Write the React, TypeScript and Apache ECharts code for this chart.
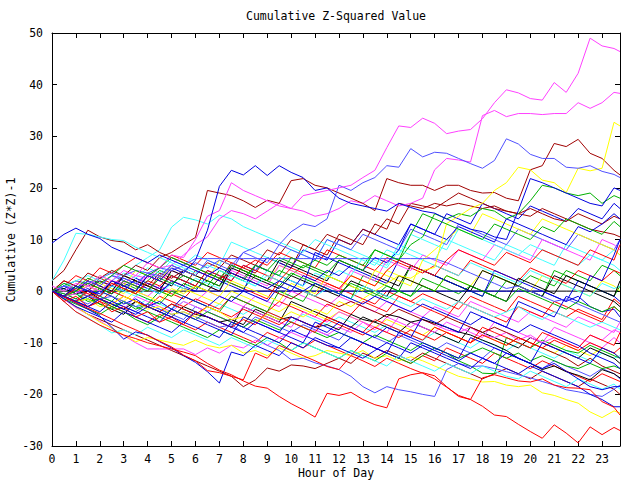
import React, { useEffect, useRef } from "react";
import * as echarts from "echarts";

const TITLE = "Cumulative Z-Squared Value";
const X_NAME = "Hour of Day";
const Y_NAME = "Cumulative (Z*Z)-1";

const HOURS = [
  0, 0.5, 1, 1.5, 2, 2.5, 3, 3.5, 4, 4.5, 5, 5.5,
  6, 6.5, 7, 7.5, 8, 8.5, 9, 9.5, 10, 10.5, 11, 11.5,
  12, 12.5, 13, 13.5, 14, 14.5, 15, 15.5, 16, 16.5, 17, 17.5,
  18, 18.5, 19, 19.5, 20, 20.5, 21, 21.5, 22, 22.5, 23, 23.5, 23.75,
];

const RED = "#ff0000";
const GREEN = "#00b000";
const BLUE = "#0000e0";
const MAGENTA = "#ff40ff";
const CYAN = "#40ffff";
const BROWN = "#a00000";
const YELLOW = "#ffff00";
const BLACK = "#000000";
const PERIWINKLE = "#5050ff";

const zeroLine = [
  0, 0, 0, 0, 0, 0, 0, 0, 0, 0, 0, 0,
  0, 0, 0, 0, 0, 0, 0, 0, 0, 0, 0, 0,
  0, 0, 0, 0, 0, 0, 0, 0, 0, 0, 0, 0,
  0, 0, 0, 0, 0, 0, 0, 0, 0, 0, 0, 0, 0,
];
const magentaTop = [
  1, 0, 1.5, 1, 3, 2, 4, 3, 5.5, 4.5, 7, 6.5,
  10, 14.5, 15.6, 21, 19.5, 18.5, 17.5, 16.5, 16, 18.5, 19, 19.5,
  20, 20.5, 22, 23.4, 27.8, 32, 31.7, 33.5, 32.5, 30.5, 31, 31.3,
  33.4, 36.5, 39, 38.4, 37.3, 37, 40.4, 38.5, 42.2, 49, 47.5, 47, 46.4,
];
const magentaSecond = [
  0, -1, -0.5, 1, 0, 2, 1.5, 3, 2.5, 4.5, 5, 7,
  9, 10.5, 14, 15.6, 15, 14, 15.5, 17, 16, 15.5, 14.5, 15,
  16, 17.5, 17, 18.5, 17.5, 16.5, 17, 18, 23.5, 25.7, 25.4, 25,
  34, 35, 33.8, 34.4, 34.4, 34.2, 34.4, 34.4, 36.5, 35.4, 36.5, 38.5, 38.3,
];
const blueTop = [
  0, -1, 1, 0, -0.5, 2, 1, 0, 3, 2, 4.5, 3.5,
  6, 11.8, 20.3, 23.4, 22.5, 24.3, 22.4, 24.3, 23, 22, 19.5, 20,
  18, 17, 16.5, 16, 15.5, 17, 16.2, 15.5, 15.1, 14, 13, 12,
  11.5, 10.5, 10, 15.6, 21.8, 21, 20, 19, 18, 17, 16.5, 20, 19.5,
];
const periwinkleTop = [
  0, 1, 0.5, 2, 1, 3, 2.5, 1.5, 3.5, 3, 5, 4,
  5.5, 4.5, 6, 5, 7.5, 8.5, 10, 9, 11.5, 13, 12.5, 14,
  20.5, 19.5, 21, 22, 24.3, 24, 27.6, 26, 26.9, 26.7, 25.7, 24.7,
  23.8, 25.3, 29.5, 28.5, 26.5, 25.7, 25.7, 24, 23.8, 24.3, 23.2, 22.6, 22,
];
const brownTop = [
  0, 2, 1, 3.5, 2.5, 4, 3, 5, 4, 6.5, 7.5, 9,
  10.4, 19.5, 19, 18.5, 17.5, 16.2, 17.6, 17, 21.4, 21.8, 20.5, 20,
  19, 18, 17, 15.6, 21.8, 21, 20.5, 20.5, 19.5, 20.5, 20.5, 19.5,
  19, 19.1, 18, 17.5, 23.5, 24.3, 28.6, 28, 29.4, 26.7, 25.7, 23.4, 22.5,
];
const yellowJump = [
  0, -1, -2, -1.5, -3, -2.5, -1, -2, -3.5, -3, -4.5, -4,
  -5, -3, -4, -5.5, -5, -6, -4.5, -5.5, -4, -5, -3.5, -4.5,
  -2, -3, -1.5, 0, 1.5, 3, 2.5, 4, 4.6, 13.1, 14.5, 16,
  17, 19.5, 21, 24, 23.5, 21.5, 21, 19.1, 23.8, 23.3, 23.8, 32.7, 32,
];
const redLowest = [
  0, -2, -4, -5.3, -6.6, -7.6, -8.5, -9.2, -10, -10.6, -11.2, -11.8,
  -12.5, -14, -15.3, -16.2, -17.4, -18.4, -18.8, -20.4, -21.8, -23, -24.4, -19.8,
  -20.2, -19.6, -21, -22, -22.6, -17, -16.2, -15.8, -16.4, -18.5, -20.4, -21,
  -22.3, -24, -24.3, -25.8, -27.2, -28.5, -25.9, -27.5, -29.4, -26.3, -27.8, -26.4, -27,
];
const redLow = [
  0, -1.1, -2.2, -3.3, -4.3, -5.4, -6.5, -7.5, -8.6, -9.7, -10.8, -12.4,
  -13.5, -15.4, -15.8, -16.5, -17.2, -12, -13, -10.5, -11.5, -12.5, -13.5, -14.6,
  -15.2, -12.5, -13.5, -14.6, -13, -14, -15, -15.9, -17, -18.6, -20.2, -21,
  -16.8, -16.2, -16.8, -17.4, -17.6, -17, -18.2, -18.7, -18.8, -19.1, -21.4, -22.5, -24,
];
const periwinkleLow = [
  0, 1, 0, -1, -1.5, -1, -2, -3, -2.5, -3.5, -4.5, -4,
  -5, -6, -7, -6.5, -8, -9, -10.5, -11.5, -13.3, -13, -13.9, -14.5,
  -15.2, -16.5, -18.5, -19.7, -18.5, -19.1, -19.5, -20, -20.4, -15.2, -14, -14.6,
  -14.5, -15, -15.6, -16.2, -16.8, -17.5, -18.2, -19.1, -19.5, -20, -20.4, -19, -18.2,
];
const blueLow = [
  0, -1.2, -2.3, -3.5, -4.8, -7, -9.3, -7.9, -8.5, -9.8, -11, -12.5,
  -13.8, -15.6, -17.8, -11.8, -12.5, -10.5, -11.5, -12.5, -10, -11, -9, -10,
  -11, -12, -13, -11.5, -10, -11, -12, -10.5, -11.5, -12.5, -13.5, -12,
  -13, -14, -12, -13, -14, -15, -14, -15.5, -17, -18.5, -19.1, -18.5, -18.5,
];
const yellowLow = [
  0, -1.5, -3, -4.5, -6, -7.2, -8.5, -9.8, -9, -9.5, -10, -10.5,
  -9.5, -10.5, -11, -10.5, -12, -11.5, -12.5, -11, -12, -13, -12.5, -11.5,
  -12, -12.5, -11.5, -13, -12.5, -13.5, -12.7, -13.5, -14.5, -15.5, -16.5, -17,
  -17.6, -17.5, -18.2, -18.5, -18.2, -19.7, -20.2, -21, -21.7, -23.4, -24.5, -23.2, -23.6,
];
const magentaLow = [
  0, -1.6, -3.2, -4.5, -5.8, -7.2, -8.6, -10, -11.2, -11.2, -11.2, -11.2,
  -12.3, -11, -12, -10.5, -11, -9.5, -10.5, -9, -8, -9, -7.5, -8.5,
  -7, -8, -6, -7.5, -5, -6, -7, -5.5, -6.5, -7.5, -8, -7,
  -8.5, -9, -8, -9.5, -8.5, -10, -9, -10, -11, -8.5, -9.5, -7.5, -8,
];
const blackLow = [
  0, 0.5, -0.5, 0, -1.5, -2.5, -3.5, -2, -3, -4, -2.5, -3.5,
  -4.5, -5, -6, -5.5, -6.5, -3.5, -4.5, -5.5, -5, -6, -7, -6.5,
  -7.5, -4.5, -5.5, -6, -4.5, -5, -6, -5.5, -6.2, -7, -7.9, -8.5,
  -9.5, -10.4, -11.5, -13, -14, -15.2, -14.5, -15.6, -16.3, -17.2, -15.2, -16, -16.8,
];
const cyanArc = [
  2, 6, 11.2, 11, 10.5, 10, 9.8, 8.5, 7.5, 6.5, 5.5, 4.5,
  3.5, 5, 4, 3, 2, 1, 3, 2, 1, 0, -1, 0.5,
  -0.5, -1.5, 1, 0, -1, -2, -3, -1.5, -2.5, -3.5, -2, -3,
  -4, -5, -4, -3, -4.5, -5.5, -4, -5, -6, -7, -6, -7, -7.5,
];
const blueEarlyHigh = [
  9.3, 11, 12.2, 11, 10.2, 8.5, 7.5, 6.5, 5.5, 7, 6, 5,
  4, 3, 4.5, 3.5, 2.5, 1.5, 0.5, 2, 1, 0, 1.5, 0.5,
  -0.5, -1.5, -2.5, -1, -2, -3, -4, -2.5, -3.5, -4.5, -5.5, -6.5,
  -5, -6, -7, -8, -6.5, -7.5, -8.5, -9.5, -10.5, -12, -13, -14, -15,
];
const brownEarlyHigh = [
  2, 4, 8, 11.8, 10.5, 9.8, 9.5, 8, 9, 7.5, 6.5, 5.5,
  4.5, 3.5, 2.5, 3.5, 2.5, 1.5, 0.5, -0.5, -1.5, 0, -1, -2,
  -3, -2, -3, -4, -5, -3.5, -4.5, -5.5, -6.5, -5, -6, -7,
  -8, -7, -8, -9, -10, -11, -12, -13, -14.5, -13, -14.5, -15.5, -16,
];
const periwinkleFlat = [
  0, 1, 2, 1.5, 2.5, 3.5, 3, 4, 3.5, 4.5, 4, 5,
  6.3, 6.3, 6.3, 6.3, 6.3, 6.3, 6.3, 6.3, 6.3, 6.3, 6.3, 6.3,
  6.3, 6.3, 6.3, 6.3, 6.3, 6.3, 6.3, 6.3, 6.3, 5.5, 4.5, 3.5,
  2.5, 1.5, 0.5, 1, 0, -1, -2, -1.5, -2.5, -3.5, -4.5, -5.5, -6,
];
const blueFlat = [
  0, -1, 0.5, 1.5, 0.5, -0.5, 1, 2, 1, 0, 1.5, 0.5,
  0, 0, 0, 0, 0, 0, 0, 0, 0, 0, 0, 0,
  0, 0, 0, 0, 0, 0, 0, 0, 0, 0, 0, 0,
  0, 0, 0, 0, 0, 0, -1, -2, -1, -3, -4, -3.5, -5,
];
const green1 = [
  0, -1, -0.5, -2, -1.5, -3, -2, -3.5, -2.5, 0, -1, 1.5,
  0.5, 2, 1, 3.5, 2.5, 5, 4, 6.5, 5.5, 4.5, 6, 5,
  7, 6, 5, 8, 7, 6, 9, 10.5, 15, 14, 15, 14.5,
  16, 15.5, 14, 15, 17.5, 20.5, 20, 19, 18.5, 19, 17, 18.5, 18,
];
const green2 = [
  0, -1, -2, -1.5, -2.5, -3.5, -2, -3, -4, -5, -3.5, -4.5,
  -5.5, -4, -5, -6, -7, -5.5, -6.5, -7.5, -6, -7, -8, -9,
  -8, -9, -10, -8.5, -9.5, -10.5, -11.5, -10, -11, -12, -13.5, -14.5,
  -15.9, -16, -9, -10, -11, -9.5, -10.5, -11.5, -12, -10.5, -11.5, -12.5, -13,
];
const green3 = [
  0, 1, 0, -1, 0.5, -0.5, 1.5, 0.5, 2, 4, 3, 2,
  1, 0, 2.5, 1.5, 0.5, 3, 2, 4, 3, 5, 4, 3,
  2, 1, 0, -1, 1, 0, -1, 2.5, 1.5, 0.5, -0.5, 1,
  0, -1, 2, 1, 3, 2, 1, 4, 3, 2, 5, 4, 3,
];
const green4 = [
  0, -1.5, -2.5, -3.5, -4.5, -3, -4, -5.5, -6.5, -5, -6, -7,
  -8, -9, -7.5, -8.5, -9.5, -10.5, -9, -10, -11.5, -10, -11, -12,
  -13, -11.5, -12.5, -13.5, -12, -13, -14, -12.5, -11, -12, -13, -12,
  -11, -12, -13, -12, -13.5, -12.5, -13.5, -14.5, -15, -14, -15, -14.5, -15,
];
const green5 = [
  0, 1.5, 0.5, 2.5, 1.5, 3, 5, 4, 3, 4.5, 6.5, 5.5,
  4.5, 3.5, 2.5, 5, 4, 3, 2, 1, 3.5, 2.5, 1.5, 0.5,
  -0.5, 1.5, 0.5, -0.5, -1.5, 0, -1, 1, 0, 3, 2, 1,
  0, -1, -2, 0.5, -0.5, -1.5, -2.5, -3.5, -2, -3, -4, -3, -4,
];
const green6 = [
  0, -0.5, -1.5, 0, -1, -2, 0.5, -0.5, -1.5, -2.5, 0, -1,
  -2, -3, -4, -1, -2, -3, -4, 0, -1, -2, 1.5, 0.5,
  -0.5, -1.5, 3, 2, 1, 0, 5, 4, 3, 2, 1, 0,
  -1, 3, 2, 1, 0, -1, 4, 3, 2, 1, 0, -1, 1,
];
const green7 = [
  0, -1, 0, 1.5, 0.5, -0.5, 2, 1, 0, 2.5, 1.5, 3,
  2, 1, 4, 3, 2, 5, 4, 3, 6.5, 5.5, 4.5, 3.5,
  6, 5, 4, 8, 7, 6, 11, 15, 14, 13, 12, 11,
  10, 13, 12, 11, 10, 12.5, 11.5, 14, 13, 12, 11, 13.5, 12.5,
];
const red3 = [
  0, 2, 1, 0, 2.5, 1.5, 0.5, -0.5, 1.5, 0.5, -0.5, -1.5,
  1, 0, 2.5, 1.5, 0.5, -0.5, -1.5, 2, 1, 0, -1, 1.5,
  0.5, -0.5, -1.5, -2.5, 0, -1, -2, -0.5, -1.5, -2.5, -3.5, -1,
  -2, -3, -4, -1, -2, -3, -4, -5, -3.5, -4.5, -5.5, -1.5, -2.5,
];
const red4 = [
  0, 1, 3, 2, 4.5, 3.5, 5, 6.5, 5.5, 4.5, 7, 6,
  5, 7.5, 6.5, 5.5, 4.5, 6, 5, 7.5, 6.5, 5.5, 4.5, 8,
  7, 6, 5, 4, 6.5, 5.5, 4.5, 3.5, 5, 4, 3, 6,
  5, 4, 3, 2, 4.5, 3.5, 2.5, 1.5, 4, 3, 2, 4, 3.5,
];
const red5 = [
  0, -1, -2, -3, -2, -3, -4, -5, -6, -4.5, -5.5, -6.5,
  -7.5, -6, -7, -8, -9, -10, -8, -9, -10, -11, -9.5, -10.5,
  -11.5, -12.5, -10, -11, -12, -13, -14, -12.5, -13.5, -11, -12, -13,
  -14, -12, -13, -14, -15, -13.5, -14.5, -15.5, -16.5, -17.5, -16, -17, -17.5,
];
const red6 = [
  0, -1, 0.5, -0.5, -1.5, -2.5, -1, -2, -3, -4, -2.5, -3.5,
  -4.5, -3, -4, -5, -3.5, -4.5, -5.5, -6.5, -5, -6, -7, -5.5,
  -6.5, -7.5, -8.5, -7, -8, -9, -7.5, -8.5, -9.5, -8, -9, -10,
  -8.5, -9.5, -10.5, -9, -10, -11, -9.5, -10.5, -11.5, -10, -11, -12, -11,
];
const red7 = [
  0, -1, -2, 0, -1, 1.5, 0.5, -0.5, 2, 1, 3, 2,
  1, 4, 3, 2, 5, 4, 3, 2, 4.5, 3.5, 2.5, 1.5,
  0.5, 3, 2, 1, 4, 6, 5, 4, 3, 6, 8, 7,
  6, 5, 7.5, 6.5, 5.5, 8, 7, 6, 5, 8, 7, 6, 9,
];
const red8 = [
  0, -2, -1, -3, -2, -4, -3, -5, -4, -6, -5, -6.5,
  -4, -5, -6, -7, -5.5, -6.5, -4, -5, -6, -7, -8, -5,
  -6, -7, -8, -5.5, -6.5, -7.5, -8.5, -9.5, -7, -8, -9, -10,
  -7, -8, -9, -10, -11, -8, -9, -10, -11, -8.5, -9.5, -10.5, -8,
];
const red9 = [
  0, 1, 0, -1, -2, 0, -1, -2, -3, -1, -2, -3,
  -1.5, -2.5, -3.5, -1, -2, -3, -4, -2, -3, -4, -5, -2.5,
  -3.5, -4.5, -2, -3, -4, -1, -2, -3, -4, -5, -2, -3,
  -4, -5, -6, -3, -4, -5, -2, -3, -4, -5, -6, -3, -4,
];
const blue3 = [
  0, 1, -0.5, 0.5, -1, 1, 2.5, 1.5, 0.5, -0.5, 2, 1,
  0, 3, 2, 1, 0, 5, 4, 3, 2, 1, 7.5, 6.5,
  5.5, 4.5, 3.5, 2.5, 1.5, 6, 5, 4, 3, 2, 1, 0,
  -1, 4, 3, 2, 1, 0, -1, -2, 2, 1, 0, -1, -2,
];
const blue4 = [
  0, -1, -2, -1, 0, -1, -2.5, -1.5, -3, -2, -3.5, -1,
  -2, -3, -1, -2, 0, -1, -2, 1, 0, 3, 2, 4,
  3, 5, 4, 6.5, 5.5, 8, 13, 12, 11, 10, 12.5, 11.5,
  10.5, 9.5, 14, 13, 12, 11, 10, 9, 12.5, 11.5, 13, 15, 14,
];
const blue5 = [
  0, -1.5, -3, -4, -5, -6, -4, -5, -6, -7, -8, -6,
  -7, -8, -9, -6, -7, -8, -9, -10, -7.5, -8.5, -9.5, -10.5,
  -11, -9, -10, -11, -12, -13, -10, -11, -12, -13, -14, -15,
  -13, -14, -15, -16, -14.5, -15.5, -16.5, -17.5, -18.5, -20, -21, -22.4, -22.4,
];
const blue6 = [
  0, -1, -2, -3, -1.5, -2.5, -3.5, -4.5, -3, -4, -5, -6,
  -4, -5, -6, -7, -8, -6, -7, -8, -5, -6, -7, -8,
  -6, -7, -8, -9, -7, -8, -9, -5, -6, -7, -8, -4,
  -5, -6, -7, -2, -3, -4, -5, -1, -2, 3, 2, 7, 10,
];
const blue7 = [
  0, 0.5, -0.5, 1, 2, 1, 0, 2.5, 1.5, 0.5, 3, 2,
  1, 4, 3, 2, 5, 4, 6.5, 5.5, 4.5, 8, 7, 6,
  10, 9, 12, 11, 10, 9, 13, 12, 11, 15, 14, 13,
  17, 16, 15, 14, 16.5, 15.5, 14.5, 13.5, 16, 15, 14, 17, 16,
];
const blue8 = [
  0, -1, -2, -3, -4, -2, -3, -4, -5, -6, -3.5, -4.5,
  -5.5, -6.5, -7.5, -8.5, -5, -6, -7, -8, -9, -10, -6, -7,
  -8, -9, -10, -11, -12, -8, -9, -10, -11, -12, -13, -9,
  -10, -11, -12, -13, -14, -10, -11, -12, -13, -14, -11, -12, -13,
];
const magenta4 = [
  0, 1, 2, 1, 0, 2, 1, 0, -1, 1, 0, -1,
  -2, 0, -1, -2, -3, -1, -2, -3, 0, -1, -2, -3,
  -1, -2, -3, -4, -2, -3, -4, -5, -3, -4, -5, -2,
  -3, -4, -5, -6, -4, -5, -6, -7, -5, -6, -7, -8, -6,
];
const magenta5 = [
  0, -1, 0.5, -0.5, 1, 0, 2, 1, 3, 2, 4, 3,
  2, 1, 0, 4, 3, 2, 1, 5, 4, 3, 2, 1,
  0, 4, 3, 2, 6, 5, 4, 7, 6, 5, 8, 7,
  6, 9, 8, 7, 6, 10, 9, 8, 7, 6, 10, 9, 8,
];
const magenta6 = [
  0, -1, -2, -3, -1.5, -2.5, -3.5, -1, -2, -3, -4, -2,
  -3, -4, -5, -6, -3, -4, -5, -6, -7, -4, -5, -6,
  -4, -5, -6, -7, -8, -5, -6, -7, -8, -6, -7, -8,
  -9, -6, -7, -8, -9, -10, -7, -8, -9, -10, -11, -9, -10,
];
const cyan2 = [
  0, 1, 2, 3, 2, 4, 3, 5, 6.5, 8, 12.4, 14.3,
  13.8, 13, 14.7, 14, 12.5, 11.5, 10.5, 9.5, 8.5, 7.5, 10, 9,
  8, 7, 6, 5, 8, 7, 11, 10, 9, 8, 12, 11,
  10, 9, 8, 7, 9, 8, 7, 6, 5, 7, 6, 5, 4,
];
const cyan3 = [
  0, -2, -4, -5.2, -6.6, -8.1, -7.5, -8.5, -7, -8, -9, -7.5,
  -8.5, -9.5, -10.5, -9, -10, -11, -9.5, -10.5, -11.5, -10, -11, -12,
  -13, -11.5, -12.5, -13.5, -14.5, -12.5, -13.5, -14.5, -15.5, -14, -15, -16,
  -14.5, -15.5, -16.5, -17, -15.5, -16.5, -17.5, -18.5, -17, -18, -19, -18, -19,
];
const cyan4 = [
  0, 0.5, -0.5, -1.5, 0, -1, -2, -3, -1.5, -2.5, -3.5, -2,
  -3, -4, -2.5, -3.5, -4.5, -3, -4, -5, -6, -4.5, -5.5, -6.5,
  -5, -6, -7, -8, -6.5, -7.5, -8.5, -9.5, -8, -9, -10, -11,
  -9.5, -10.5, -11.5, -10, -11, -12, -13, -11.5, -12.5, -13.5, -12, -13, -12.5,
];
const cyan5 = [
  0, 1.5, 1, 0, -1, 1, 0, -1, 0.5, -0.5, 1.5, 0.5,
  2.5, 1.5, 0.5, 3, 2, 1, 4, 3, 2, 1, 3.5, 2.5,
  4, 3, 6.5, 5.5, 4.5, 8, 7, 6, 5, 4, 3, 5.5,
  4.5, 3.5, 2.5, 1.5, 4, 3, 2, 1, 0, -1, 1.5, 0.5, 1,
];
const cyan6 = [
  0, 1, 2, 1, 0, 2, 3.5, 2.5, 4.5, 3.5, 6, 5,
  7, 6, 5, 9.5, 8.5, 7.5, 6.5, 5.5, 8, 7, 6, 10,
  9, 8, 7, 6, 5, 9, 8, 7, 6, 10, 9, 8,
  7, 6, 9, 8, 7, 6, 5, 9, 8, 7, 6, 8, 7,
];
const brown3 = [
  0, -1, 0, 1.5, 0.5, -0.5, 2, 1, 0, 3, 2, 1,
  4, 3, 2, 5.5, 4.5, 3.5, 6.5, 5.5, 4.5, 9, 8, 7,
  11, 10, 9, 13, 12, 17, 16.5, 16, 17, 16.5, 17, 16.5,
  16, 16.5, 15.5, 15, 14.5, 16, 15, 14, 13, 12, 11.5, 11, 10.5,
];
const brown4 = [
  0, -1, 1, 0, 2, 1, 3, 2, 1, 3.5, 2.5, 4,
  3, 5.5, 4.5, 7, 6, 5, 8, 7, 10, 9, 8, 11,
  10, 9, 12, 11, 14, 13, 17, 16.5, 16, 17.5, 19, 18,
  17, 16, 15.5, 15, 16, 15, 14, 13.5, 15, 14, 13, 14.5, 14,
];
const brownLow = [
  0, -1.5, -3, -4.5, -5.5, -6.5, -7.5, -8.5, -9.5, -10.5, -11.5, -12.5,
  -13.5, -14.5, -15.5, -16.5, -18.5, -17.2, -14.9, -15.5, -14.3, -14.5, -15, -14,
  -13, -14, -12, -13, -11.5, -12.5, -13.5, -12, -13, -14, -15, -16,
  -17, -16, -15, -16, -17, -15.5, -16.5, -17.5, -18.5, -17, -18, -19, -20,
];
const yellow3 = [
  0, 1, 0, -1, 1.5, 0.5, -0.5, 2, 1, 0, -1, 0.5,
  -0.5, -1.5, -2.5, 0, -1, -2, -3, -4, -2.5, -3.5, -4.5, -5.5,
  -4, -5, -6, -7, -5.5, -6.5, -7.5, -8.5, -7, -8, -9, -10,
  -8.5, -9.5, -10.5, -9, -10, -11, -12, -10.5, -11.5, -12.5, -11, -12, -13,
];
const yellow4 = [
  0, -1, 0, 1, 0, -1, -2, 0, -1, -2, 0.5, -0.5,
  1, 0, -1, 2, 1, 0, -1, -2, 1.5, 0.5, -0.5, 3,
  2, 1, 0, 4, 3, 2, 1, 6, 8, 10, 12, 11,
  15, 14, 13, 12, 11, 14, 13, 12, 11, 10, 9, 8, 7,
];
const yellow5 = [
  0, 1, 2, 1, 3, 2, 1, 4, 3, 2, 5, 4,
  3, 2, 6, 5, 4, 3, 2, 5, 4, 3, 2, 1,
  0, 3, 2, 1, 4, 3, 2, 1, 0, 3, 2, 1,
  4, 3, 2, 1, 0, 3, 2, 1, 0, -1, 2, 1, 0,
];
const black2 = [
  0, -1, -2, -1, -2.5, -3.5, -4.5, -2, -3, -4, -5, -3,
  -4, -5, -6, -7, -3, -4, -5, -6, -2, -3, -4, -5,
  -6, -7, -5, -6, -7, -8, -6, -7, -8, -9, -10, -7,
  -8, -9, -10, -11, -9, -10, -11, -12, -13, -11, -12, -13, -14,
];
const black3 = [
  0, 1, 0, 2, 1, 0, 3, 2, 1, 0, 4, 3,
  2, 1, 0, 4.5, 3.5, 2.5, 1.5, 0.5, 3, 2, 1, 0,
  -1, 2, 1, 0, -1, 3, 2, 1, 0, -1, -2, 1,
  0, -1, -2, 2.5, 1.5, 0.5, -0.5, 3, 2, 1, 0, -1, 2,
];
const black4 = [
  0, -1, 1, 0, -1, 2, 1, 0, 3, 2, 1, 4,
  3, 2, 1, 5, 4, 3, 2, 6, 5, 4, 3, 2,
  6, 5, 4, 3, 2, 1, 5, 4, 3, 2, 1, 0,
  4, 3, 2, 1, 0, -1, 3, 2, 1, 0, -1, -2, -3,
];
const periwinkle3 = [
  0, -0.5, -1.5, -2.5, -1, -2, -3, -4, -2.5, -3.5, -4.5, -5.5,
  -3, -4, -5, -6, -7, -5, -6, -7, -8, -6.5, -7.5, -8.5,
  -9.5, -7, -8, -9, -10, -8.5, -9.5, -10.5, -11.5, -10, -11, -12,
  -13, -11, -12, -13, -14, -15, -13.5, -14.5, -15.5, -16.5, -15, -16, -17,
];
const periwinkle4 = [
  0, 1, 0, 2, 1, 3, 2, 1, 3.5, 2.5, 5, 4,
  3, 6, 5, 4, 7.5, 6.5, 5.5, 9, 8, 7, 6, 10,
  9, 8, 11, 10, 9, 8, 12, 11, 10, 9, 13, 12,
  11, 10, 9, 12, 11, 10, 9, 8, 11, 10, 9, 8, 10,
];

const SERIES_LIST = [
  { values: zeroLine, color: BLACK },
  { values: red3, color: RED },
  { values: green3, color: GREEN },
  { values: blueFlat, color: BLUE },
  { values: magenta4, color: MAGENTA },
  { values: cyan4, color: CYAN },
  { values: brown3, color: BROWN },
  { values: yellow3, color: YELLOW },
  { values: black2, color: BLACK },
  { values: periwinkle3, color: PERIWINKLE },
  { values: red9, color: RED },
  { values: green6, color: GREEN },
  { values: blue7, color: BLUE },
  { values: magenta6, color: MAGENTA },
  { values: cyan6, color: CYAN },
  { values: brown4, color: BROWN },
  { values: yellow5, color: YELLOW },
  { values: black4, color: BLACK },
  { values: periwinkle4, color: PERIWINKLE },
  { values: red4, color: RED },
  { values: green1, color: GREEN },
  { values: blue3, color: BLUE },
  { values: magenta5, color: MAGENTA },
  { values: cyan5, color: CYAN },
  { values: brownLow, color: BROWN },
  { values: yellow4, color: YELLOW },
  { values: black3, color: BLACK },
  { values: periwinkleFlat, color: PERIWINKLE },
  { values: red5, color: RED },
  { values: green2, color: GREEN },
  { values: blue4, color: BLUE },
  { values: magentaLow, color: MAGENTA },
  { values: cyan2, color: CYAN },
  { values: brownEarlyHigh, color: BROWN },
  { values: yellowLow, color: YELLOW },
  { values: blackLow, color: BLACK },
  { values: periwinkleLow, color: PERIWINKLE },
  { values: red6, color: RED },
  { values: green4, color: GREEN },
  { values: blue5, color: BLUE },
  { values: magentaSecond, color: MAGENTA },
  { values: cyan3, color: CYAN },
  { values: brownTop, color: BROWN },
  { values: yellowJump, color: YELLOW },
  { values: periwinkleTop, color: PERIWINKLE },
  { values: red7, color: RED },
  { values: green7, color: GREEN },
  { values: green5, color: GREEN },
  { values: blue8, color: BLUE },
  { values: blueLow, color: BLUE },
  { values: magentaTop, color: MAGENTA },
  { values: cyanArc, color: CYAN },
  { values: red8, color: RED },
  { values: blue6, color: BLUE },
  { values: redLow, color: RED },
  { values: blueEarlyHigh, color: BLUE },
  { values: redLowest, color: RED },
  { values: blueTop, color: BLUE },
];

const FONT = "DejaVu Sans Mono";

export default function App() {
  const ref = useRef<HTMLDivElement>(null);
  useEffect(() => {
    if (!ref.current) return;
    const chart = echarts.init(ref.current, undefined, { renderer: "svg" });
    const axisText = { color: "#000", fontFamily: FONT, fontSize: 11.5 };
    const xCommon = {
      type: "value" as const,
      min: 0,
      max: 23.75,
      interval: 1,
      splitLine: { show: false },
      axisLine: { show: true, onZero: false, lineStyle: { color: "#000", width: 1 } },
      axisTick: { show: true, inside: true, length: 5, lineStyle: { color: "#000", width: 1 } },
    };
    const yCommon = {
      type: "value" as const,
      min: -30,
      max: 50,
      interval: 10,
      splitLine: { show: false },
      axisLine: { show: true, onZero: false, lineStyle: { color: "#000", width: 1 } },
      axisTick: { show: true, inside: true, length: 5, lineStyle: { color: "#000", width: 1 } },
    };
    chart.setOption({
      animation: false,
      backgroundColor: "#ffffff",
      title: {
        text: TITLE,
        left: 241,
        top: 5,
        textStyle: { ...axisText, fontWeight: "normal" },
      },
      graphic: [
        {
          type: "text",
          x: 336,
          y: 473,
          style: {
            text: X_NAME,
            fill: "#000",
            font: `11.5px "${FONT}"`,
            align: "center",
            verticalAlign: "middle",
          },
        },
        {
          type: "text",
          x: 11,
          y: 240,
          rotation: Math.PI / 2,
          style: {
            text: Y_NAME,
            fill: "#000",
            font: `11.5px "${FONT}"`,
            align: "center",
            verticalAlign: "middle",
          },
        },
      ],
      grid: {
        left: 52,
        right: 20,
        top: 33,
        bottom: 34,
        containLabel: false,
        outerBoundsMode: "none",
      },
      xAxis: [
        {
          ...xCommon,
          position: "bottom",
          axisLabel: {
            ...axisText,
            margin: 7,
            formatter: (v: number) => (Number.isInteger(v) ? String(v) : ""),
          },
        },
        { ...xCommon, position: "top", axisLabel: { show: false } },
      ],
      yAxis: [
        {
          ...yCommon,
          position: "left",
          axisLabel: { ...axisText, margin: 9 },
        },
        { ...yCommon, position: "right", axisLabel: { show: false } },
      ],
      series: SERIES_LIST.map((s) => ({
        type: "line",
        xAxisIndex: 0,
        yAxisIndex: 0,
        data: s.values.map((v, i) => [HOURS[i], v]),
        showSymbol: false,
        symbol: "none",
        silent: true,
        clip: true,
        lineStyle: { color: s.color, width: 1 },
        itemStyle: { color: s.color },
        emphasis: { disabled: true },
      })),
    });
    return () => chart.dispose();
  }, []);
  return (
    <div
      ref={ref}
      style={{ position: "fixed", left: 0, top: 0, width: 640, height: 480 }}
    />
  );
}
